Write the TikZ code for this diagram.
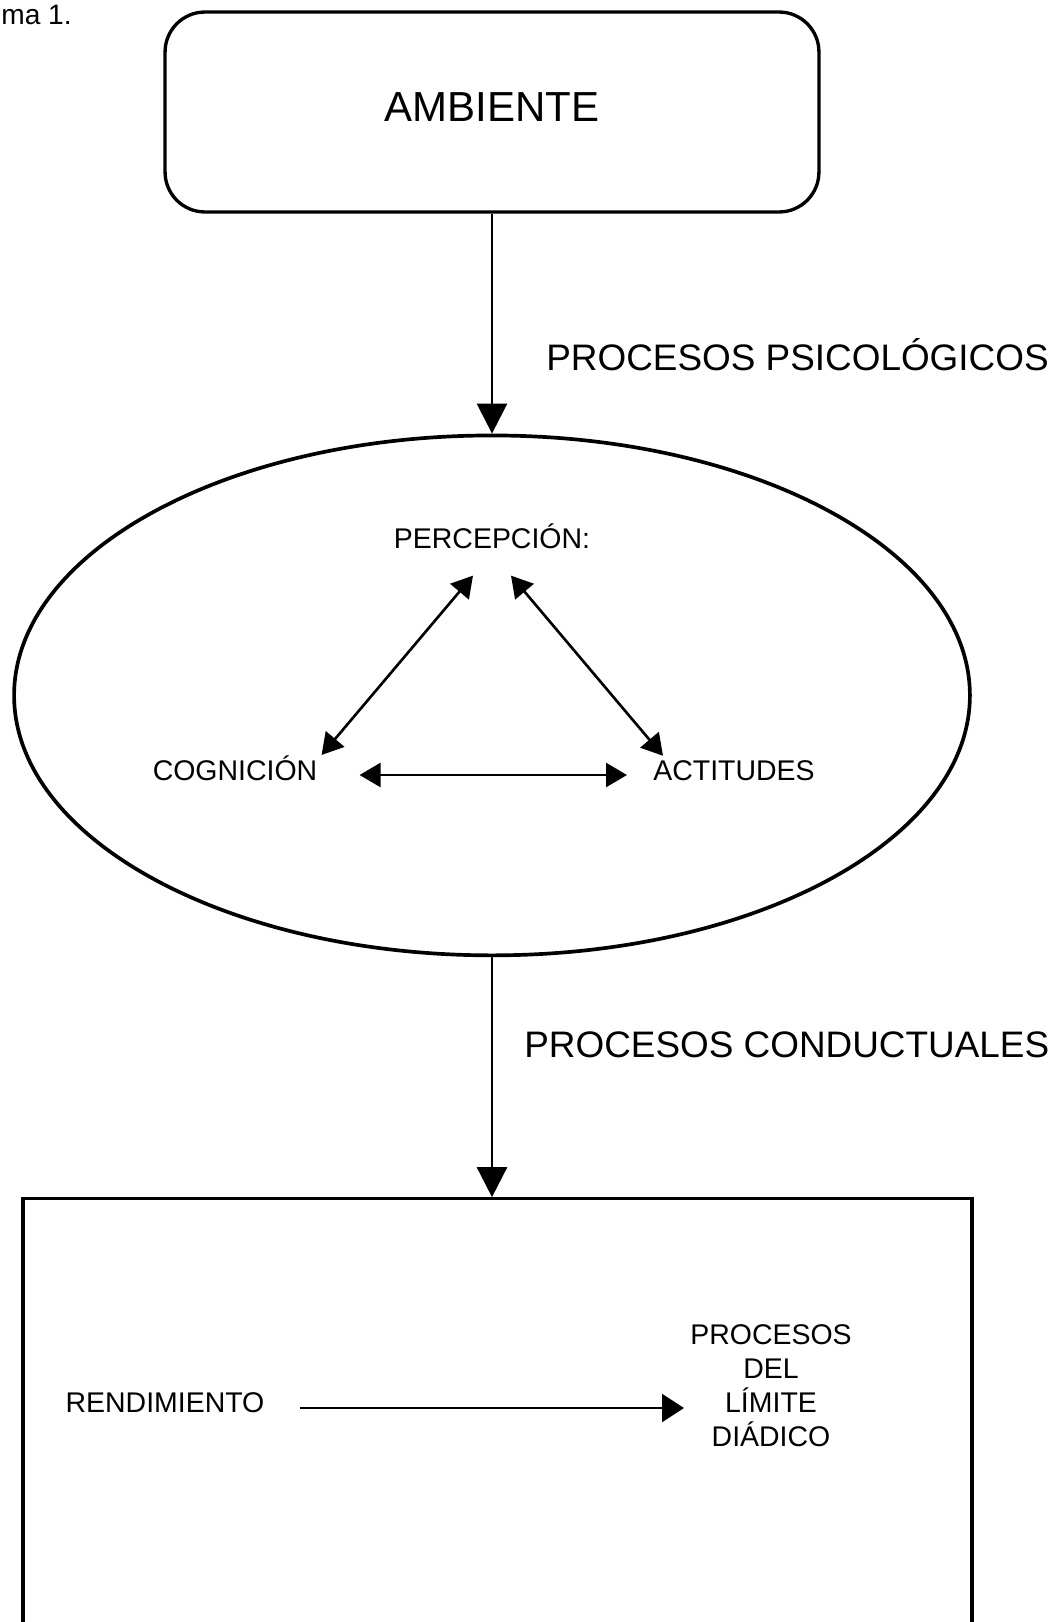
\documentclass[tikz,border=0pt]{standalone}
\usepackage{fontspec}
\setmainfont{Liberation Sans}
\usetikzlibrary{positioning, arrows.meta, shapes.geometric, calc}

\tikzset{
  caja/.style={draw, line width=1.9pt, inner sep=0pt},
  flecha/.style={line width=1.5pt, -{Triangle[length=0.6cm, width=0.6cm]}},
  flechita/.style={line width=1.5pt, {Triangle[length=0.42cm, width=0.48cm]}-{Triangle[length=0.42cm, width=0.48cm]}},
  flechaR/.style={line width=1.4pt, -{Triangle[length=0.44cm, width=0.56cm]}},
  texto/.style={inner sep=0pt, font=\fontsize{16.2}{19.4}\selectfont},
  titulo/.style={inner sep=0pt, font=\fontsize{21}{25}\selectfont},
}

\begin{document}
\begin{tikzpicture}[x=0.02cm, y=-0.02cm]
    \useasboundingbox (0,0) rectangle (1059,1622);
    \node (esquema) [texto, font=\fontsize{16}{19}\selectfont, anchor=base west] at (1,25) {ma 1.};
    % Bloques principales
    \node (ambiente) [caja, rounded corners=0.8cm, minimum width=13.08cm, minimum height=4cm,
        label={[font=\fontsize{23.9}{28}\selectfont, yshift=0.1cm]center:AMBIENTE}] at (492,112) {};
    \node (psico) [caja, ellipse, line width=2.1pt, minimum width=19.12cm, minimum height=10.4cm, below=4.4cm of ambiente] {};
    \node (resultado) [caja, minimum width=18.98cm, minimum height=10.16cm, below=4.8cm of psico, xshift=0.11cm] {};
    % Procesos entre bloques
    \draw [flecha] (ambiente) -- (psico);
    \draw [flecha] (psico) -- (psico.south |- resultado.north);
    \node (psicologicos) [titulo, anchor=base west] at (546,370) {PROCESOS PSICOLÓGICOS};
    \node (conductuales) [titulo, anchor=base west] at (524,1057) {PROCESOS CONDUCTUALES};
    % Dentro de la elipse
    \node (percepcion) [texto, anchor=base] at (492,548) {PERCEPCIÓN:};
    \node (cognicion) [texto, anchor=base] at (235,780) {COGNICIÓN};
    \node (actitudes) [texto, anchor=base] at (734,780) {ACTITUDES};
    \draw [flechita] ($(cognicion.north east)+(4,0)$) -- ($(percepcion.south)+(-19,27)$);
    \draw [flechita] ($(percepcion.south)+(19,27)$) -- ($(actitudes.north west)+(10,-4)$);
    \draw [flechita] ($(cognicion.base east)+(42,-5)$) -- ($(actitudes.base west)+(-26,-5)$);
    % Dentro del rectangulo
    \node (rendimiento) [texto, anchor=base] at (165,1412) {RENDIMIENTO};
    \node (limite) [texto, anchor=north, align=center] at (771,1324) {PROCESOS\\DEL\\LÍMITE\\DIÁDICO};
    \draw [flechaR] ($(rendimiento.base east)+(35,-4)$) -- ($(limite.west |- rendimiento.base)+(-6,-4)$);
\end{tikzpicture}
\end{document}
